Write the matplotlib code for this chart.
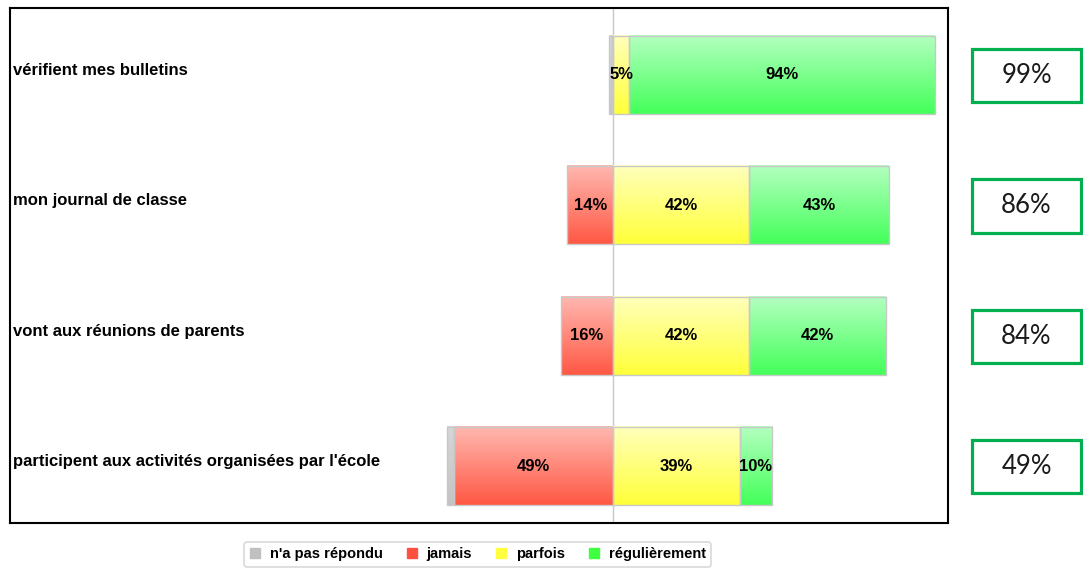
import matplotlib.pyplot as plt
import numpy as np
from matplotlib.patches import Rectangle
from matplotlib.lines import Line2D
from matplotlib.transforms import blended_transform_factory

categories = ["vérifient mes bulletins",
              "mon journal de classe",
              "vont aux réunions de parents",
              "participent aux activités organisées par l'école"]
no_answer = [0.8, 0.0, 0.0, 2.0]
jamais = [0.4, 14, 16, 49]
parfois = [5, 42, 42, 39]
regulierement = [94, 43, 42, 10]
totals = ["99%", "86%", "84%", "49%"]

legend_names = ["n'a pas répondu", "jamais", "parfois", "régulièrement"]
# (top colour, bottom colour) of each series gradient
grad = {
    "grey": ("#d6d6d6", "#c4c4c4"),
    "red": ("#ffb8b0", "#ff5844"),
    "yellow": ("#ffffbc", "#ffff3a"),
    "green": ("#b4ffc0", "#44ff5a"),
}
legend_cols = ["#c0c0c0", "#ff5040", "#ffff40", "#40ff40"]

plt.rcParams['font.family'] = ['Liberation Sans', 'DejaVu Sans']

fig = plt.figure(figsize=(10.83, 5.69), dpi=100)
ax = fig.add_axes([10 / 1083, 46 / 569, 938 / 1083, 515 / 569])

bar_h = 0.6
n = len(categories)
ypos = [n - 1 - i for i in range(n)]


def grad_bar(x0, width, y, cols):
    if width <= 0:
        return
    c0 = np.array(plt.matplotlib.colors.to_rgb(cols[0]))
    c1 = np.array(plt.matplotlib.colors.to_rgb(cols[1]))
    t = np.linspace(0, 1, 64)[:, None]
    img = (c0 * (1 - t) + c1 * t)[:, None, :]
    ax.imshow(img, extent=[x0, x0 + width, y - bar_h / 2, y + bar_h / 2],
              aspect='auto', origin='upper', interpolation='bilinear', zorder=2)
    ax.barh(y, width, left=x0, height=bar_h, fill=False,
            edgecolor='#c8c8c8', linewidth=1, zorder=3)


for i, y in enumerate(ypos):
    # left side: jamais then n'a pas répondu, right side: parfois then régulièrement
    grad_bar(-jamais[i], jamais[i], y, grad["red"])
    grad_bar(-jamais[i] - no_answer[i], no_answer[i], y, grad["grey"])
    grad_bar(0, parfois[i], y, grad["yellow"])
    grad_bar(parfois[i], regulierement[i], y, grad["green"])

    if jamais[i] >= 1:
        ax.text(-jamais[i] / 2, y, f"{jamais[i]:.0f}%", ha='center', va='center',
                fontsize=12, fontweight='bold', zorder=4)
    ax.text(parfois[i] / 2, y, f"{parfois[i]:.0f}%", ha='center', va='center',
            fontsize=12, fontweight='bold', zorder=4)
    ax.text(parfois[i] + regulierement[i] / 2, y, f"{regulierement[i]:.0f}%",
            ha='center', va='center', fontsize=12, fontweight='bold', zorder=4)

ax.axvline(0, color='#c8c8c8', linewidth=1, zorder=1)

ax.set_xlim(-185.5, 103.1)
ax.set_ylim(-0.437, 3.514)
ax.set_xticks([])
ax.set_yticks([])
for s in ax.spines.values():
    s.set_linewidth(1.5)
    s.set_color('black')

lbl_tr = blended_transform_factory(ax.transAxes, ax.transData)
for i, y in enumerate(ypos):
    ax.text(0.003, y + 0.035, categories[i], transform=lbl_tr, ha='left',
            va='center', fontsize=12, fontweight='bold')

# totals boxes on the right
box_tr = blended_transform_factory(fig.transFigure, ax.transData)
bw, bh = 109 / 1083, 0.41
bx = 972 / 1083
for i, y in enumerate(ypos):
    ax.add_patch(Rectangle((bx, y - bh / 2 - 0.005), bw, bh, transform=box_tr,
                           fill=False, edgecolor='#00b050', linewidth=2.3,
                           clip_on=False))
    ax.text(bx + bw / 2, y - 0.005, totals[i], transform=box_tr, ha='center',
            va='center', fontsize=18.5, family=['Lato', 'DejaVu Sans'],
            color='#1a1a1a', clip_on=False)

handles = [Line2D([], [], marker='s', linestyle='none', markersize=7.5,
                  markerfacecolor=c, markeredgecolor=c) for c in legend_cols]
leg = fig.legend(handles, legend_names, loc='center', ncol=4,
                 bbox_to_anchor=(0.441, 0.0255), frameon=True, fancybox=True,
                 prop={'size': 10.5, 'weight': 'bold'}, handlelength=0.8,
                 handletextpad=0.6, columnspacing=1.6, borderpad=0.35)
leg.get_frame().set_edgecolor('#d0d0d0')
leg.get_frame().set_linewidth(1.2)

fig.savefig('out.png', dpi=100)
